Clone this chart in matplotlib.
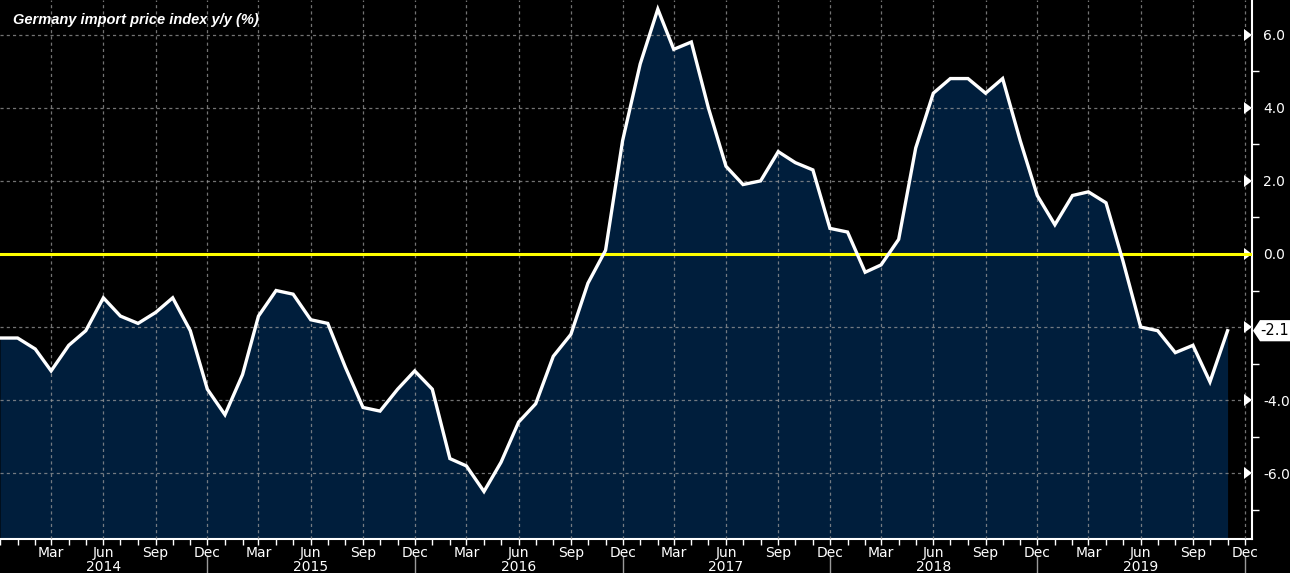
import matplotlib
matplotlib.use("Agg")
import matplotlib.pyplot as plt
import matplotlib.dates as mdates
import matplotlib.ticker as mticker
import matplotlib.transforms as mtransforms
from matplotlib.patches import Polygon
import pandas as pd
import numpy as np

title = "Germany import price index y/y (%)"
dates = pd.date_range("2013-12-01", "2019-11-01", freq="MS")
values = [
    -2.3,
    -2.3, -2.6, -3.2, -2.5, -2.1, -1.2, -1.7, -1.9, -1.6, -1.2, -2.1, -3.7,
    -4.4, -3.3, -1.7, -1.0, -1.1, -1.8, -1.9, -3.1, -4.2, -4.3, -3.7, -3.2,
    -3.7, -5.6, -5.8, -6.5, -5.7, -4.6, -4.1, -2.8, -2.2, -0.8, 0.1, 3.1,
    5.2, 6.7, 5.6, 5.8, 4.0, 2.4, 1.9, 2.0, 2.8, 2.5, 2.3, 0.7,
    0.6, -0.5, -0.3, 0.4, 2.9, 4.4, 4.8, 4.8, 4.4, 4.8, 3.1, 1.6,
    0.8, 1.6, 1.7, 1.4, -0.2, -2.0, -2.1, -2.7, -2.5, -3.5, -2.1,
]
y_major = [-6.0, -4.0, -2.0, 0.0, 2.0, 4.0, 6.0]
quarter_ticks = pd.date_range("2014-03-01", "2019-12-01", freq="3MS")
years = [2014, 2015, 2016, 2017, 2018, 2019]
last_label = "-2.1"

W, H = 1290, 573
fig = plt.figure(figsize=(W / 100, H / 100), dpi=100, facecolor="black")
ax = fig.add_axes([0, 34 / H, 1252 / W, 1 - 34 / H])
ax.set_facecolor("black")

x = mdates.date2num(dates.to_pydatetime())
ylo = -7.8
ax.fill_between(x, values, ylo, color="#001e3c", zorder=1, linewidth=0)
ax.plot(x, values, color="white", lw=2.4, zorder=4, solid_joinstyle="miter")
ax.axhline(0, color="#ffff00", lw=2.2, zorder=3)

xmin = mdates.date2num(pd.Timestamp("2013-12-01"))
xmax = mdates.date2num(pd.Timestamp("2019-12-14"))
ax.set_xlim(xmin, xmax)
ax.set_ylim(ylo, 6.95)

yv = values[-1]

# y axis on right (label under the last-value tag is covered by it)
ax.yaxis.tick_right()
ax.set_yticks(y_major)
ax.set_yticklabels(["" if abs(v - yv) < 0.5 else f"{v:.1f}" for v in y_major])
ax.set_yticks(np.arange(-7, 7, 2), minor=True)
ax.tick_params(axis="y", which="major", colors="white", labelcolor="white",
               labelsize=10, pad=8, length=0)
ax.tick_params(axis="y", which="minor", colors="white", length=5, width=1,
               direction="out", right=True)
for t in ax.yaxis.get_major_ticks():
    t.tick2line.set_marker(5)
    t.tick2line.set_markersize(8)
    t.tick2line.set_color("white")
    t.tick2line.set_markerfacecolor("white")
    t.tick2line.set_markeredgewidth(0)

# x axis
ax.xaxis.set_major_locator(mticker.FixedLocator(mdates.date2num(quarter_ticks.to_pydatetime())))
ax.xaxis.set_major_formatter(mdates.DateFormatter("%b"))
ax.xaxis.set_minor_locator(mdates.MonthLocator())
ax.tick_params(axis="x", which="both", colors="white", labelcolor="white",
               length=4, width=1, direction="out", labelsize=10, pad=1)

for s in ["top", "left"]:
    ax.spines[s].set_visible(False)
ax.spines["bottom"].set_color("white")
ax.spines["right"].set_color("white")
ax.spines["bottom"].set_linewidth(1.5)
ax.spines["right"].set_linewidth(1.5)

ax.grid(True, which="major", color="#9a9a9a", alpha=0.75, linestyle=(0, (2.5, 2.5)),
        linewidth=0.9, zorder=2)
ax.set_axisbelow(False)
for gl in ax.get_xgridlines() + ax.get_ygridlines():
    gl.set_zorder(2)

# year labels and separators
trans = mtransforms.blended_transform_factory(ax.transData, ax.transAxes)
for yr in years:
    xc = mdates.date2num(pd.Timestamp(f"{yr}-06-01"))
    ax.text(xc, -0.052, str(yr), transform=trans, color="white", fontsize=10,
            ha="center", va="center", clip_on=False)
    xs = mdates.date2num(pd.Timestamp(f"{yr}-12-01"))
    ax.plot([xs, xs], [-0.031, -0.07], transform=trans, color="#9a9a9a",
            lw=1, clip_on=False)

# last value tag
ft = mtransforms.blended_transform_factory(fig.transFigure, ax.transData)
hh = 0.29
tag = Polygon([[1253 / W, yv], [1260 / W, yv + hh], [1.0, yv + hh],
               [1.0, yv - hh], [1260 / W, yv - hh]], closed=True,
              transform=ft, facecolor="white", edgecolor="none",
              clip_on=False, zorder=20)
fig.add_artist(tag)
fig.text(1275 / W, yv, last_label, transform=ft, color="black", fontsize=10.5,
         ha="center", va="center", zorder=21)

fig.text(13 / W, 1 - 20 / H, title, color="white", fontsize=10.5,
         fontweight="bold", fontstyle="italic", family="Liberation Sans",
         ha="left", va="center")

fig.savefig("out.png", dpi=100, facecolor="black")
